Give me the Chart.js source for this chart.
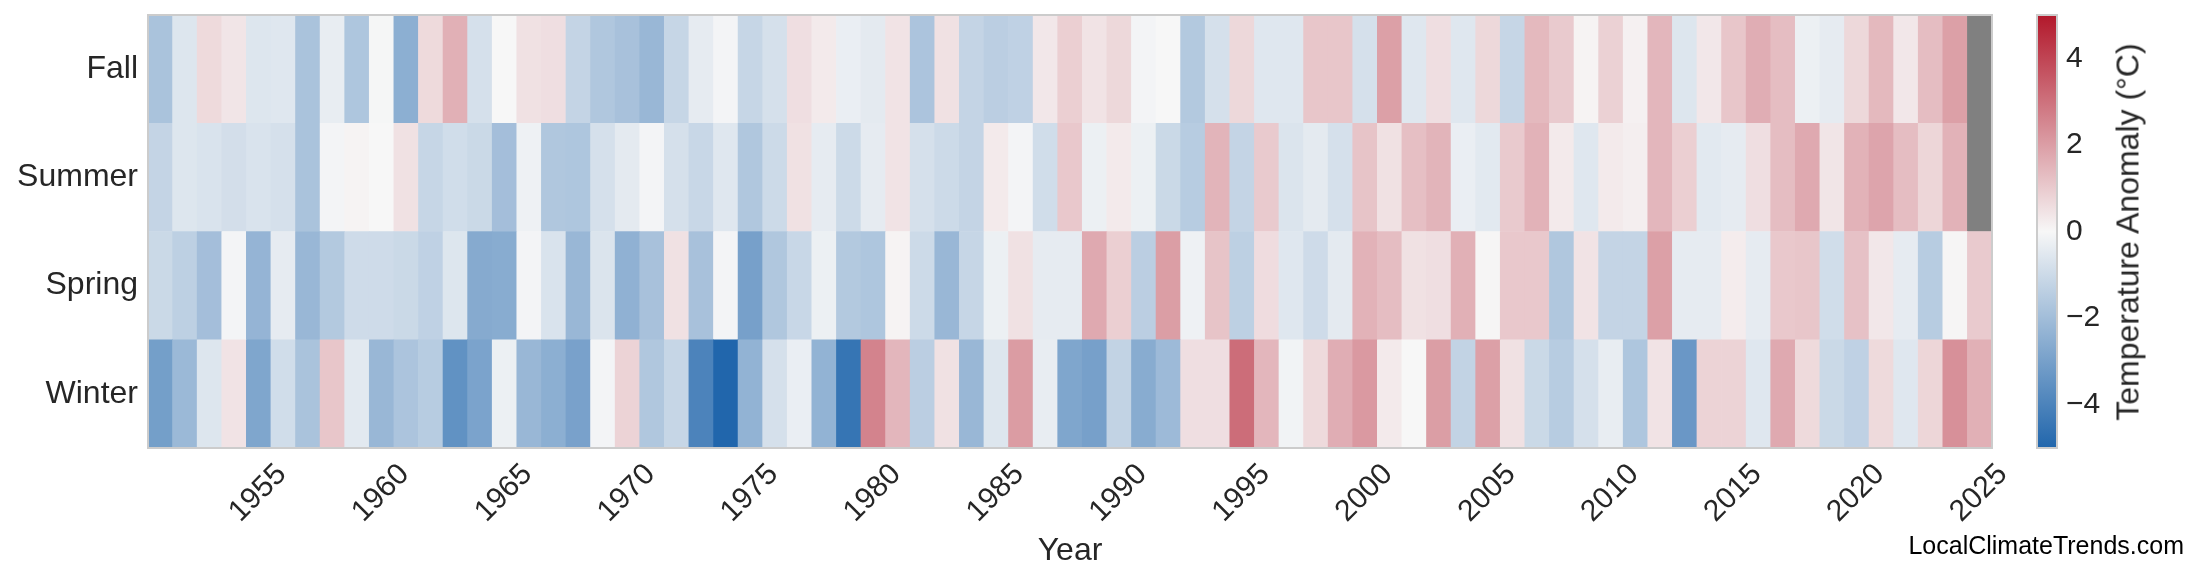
<!DOCTYPE html>
<html>
<head>
<meta charset="utf-8">
<title>Seasonal temperature anomaly</title>
<script src="https://cdn.jsdelivr.net/npm/chart.js@4.4.1/dist/chart.umd.min.js"></script>
<style>
    html, body { margin: 0; padding: 0; background: #fff; }
    #wrap { position: relative; width: 2200px; height: 585px; overflow: hidden; font-family: 'Liberation Sans', Arial, sans-serif; }
    #heat { position: absolute; left: 0; top: 0; }
    #cbar { position: absolute; left: 2000px; top: 0; }
    #cbarTitle {
        position: absolute; left: 2128px; top: 232px;
        transform: translate(-50%, -50%) rotate(-90deg);
        white-space: nowrap; font-size: 32px; color: #262626;
    }
    #credit {
        position: absolute; right: 16px; top: 533px;
        font-size: 25px; line-height: 25px; color: #000;
    }
</style>
</head>
<body>
<div id="wrap">
    <canvas id="heat" width="2200" height="585"></canvas>
    <canvas id="cbar" width="200" height="585"></canvas>
    <div id="cbarTitle">Temperature Anomaly (°C)</div>
    <div id="credit">LocalClimateTrends.com</div>
</div>
<script>
// one column per year, 1951..2025
const years = Array.from({ length: 75 }, (_, i) => 1951 + i);
const seasons = ['Winter', 'Spring', 'Summer', 'Fall'];   // bottom to top

// anomaly in °C (null = no data yet)
const winter = [-3.05, -2.15, -0.6, 0.45, -2.8, -0.9, -1.8, 1.1, -0.5, -2.2,
    -1.75, -1.5, -3.5, -2.9, -0.25, -2.2, -2.5, -2.95, -0.1, 0.8,
    -1.65, -1.15, -4.0, -5.0, -2.35, -0.8, -0.3, -2.35, -4.5, 2.6,
    1.45, -1.4, 0.5, -2.2, -0.6, 2.05, -0.35, -2.8, -3.0, -1.25,
    -2.6, -2.1, 0.55, 0.55, 3.1, 1.45, -0.15, 0.65, 1.65, 2.1,
    0.3, 0.0, 2.0, -1.25, 1.95, 0.5, -1.05, -1.5, -0.8, -0.35,
    -1.7, 0.45, -3.3, 0.8, 0.8, -0.55, 1.75, 0.65, -1.05, -1.3,
    0.65, -0.55, 0.75, 2.3, 1.6];
const spring = [-1.05, -1.35, -1.95, -0.1, -2.3, -0.4, -2.2, -1.6, -0.95, -0.95,
    -1.05, -1.3, -0.6, -2.65, -2.6, -0.1, -0.7, -2.2, -0.65, -2.4,
    -1.85, 0.5, -1.85, -0.1, -3.0, -1.65, -1.1, -0.25, -1.6, -1.7,
    0.1, -1.0, -2.2, -1.15, -0.25, 0.5, -0.4, -0.4, 1.75, 0.9,
    -1.4, 2.0, -0.2, 1.15, -1.35, 0.6, -0.55, -0.95, -0.45, 1.55,
    1.3, 0.5, 0.55, 1.6, 0.05, 1.05, 1.05, -1.65, 0.45, -1.2,
    -1.2, 1.95, -0.4, -0.4, 0.25, -0.4, 1.05, 1.1, -0.9, 1.2,
    0.35, -0.4, -1.5, 0.05, 1.0];
const summer = [-1.2, -0.6, -0.7, -0.85, -0.7, -0.8, -1.8, -0.1, 0.1, 0.0,
    0.5, -1.15, -0.9, -1.05, -1.95, -0.2, -1.65, -1.7, -0.8, -0.45,
    -0.1, -0.8, -1.1, -0.55, -1.65, -1.0, 0.5, -0.4, -1.0, -0.4,
    0.45, -0.8, -1.0, -1.2, 0.3, -0.1, -0.9, 1.05, -0.25, 0.3,
    -0.25, -1.05, -1.5, 1.5, -1.2, 1.0, -0.65, -0.45, -0.8, 1.15,
    0.5, 1.25, 1.5, -0.3, -0.5, 1.0, 1.55, 0.3, -0.55, 0.3,
    0.2, 1.45, 0.9, -0.5, -0.4, 0.55, 1.3, 1.75, 0.4, 1.55,
    1.85, 1.3, 0.75, 1.55, null];
const fall = [-1.8, -0.6, 0.65, 0.4, -0.6, -0.55, -1.8, -0.35, -1.7, -0.05,
    -2.5, 0.65, 1.6, -0.8, 0.0, 0.5, 0.55, -1.2, -1.65, -1.85,
    -2.2, -1.15, -0.4, -0.1, -1.15, -0.8, 0.55, 0.3, -0.3, -0.45,
    0.45, -1.75, 0.5, -1.2, -1.4, -1.3, 0.35, 0.9, 0.45, 0.7,
    -0.1, 0.0, -1.6, -0.8, 0.7, -0.55, -0.55, 1.1, 1.1, -0.8,
    1.95, -0.55, 0.55, -0.55, 0.7, -1.15, 1.4, 1.0, 0.1, 0.85,
    0.15, 1.45, -0.6, 0.35, 1.1, 1.65, 1.3, -0.25, -0.4, 0.7,
    1.4, 0.35, 1.3, 1.95, null];

const yearTicks = [1955, 1960, 1965, 1970, 1975, 1980, 1985, 1990, 1995, 2000, 2005, 2010, 2015, 2020, 2025];
const barTicks = [-4, -2, 0, 2, 4];
const vmin = -5, vmax = 5;

Chart.defaults.font.family = "'Liberation Sans', Arial, sans-serif";
Chart.defaults.color = '#262626';

// blue - white - red, linear in rgb
const low = [33, 102, 172], mid = [247, 247, 247], high = [178, 24, 43];
function anomalyColor(v) {
    if (v === null) return '#808080';
    const t = Math.max(-1, Math.min(1, v / vmax));
    const end = t < 0 ? low : high;
    const c = mid.map((m, k) => Math.round(m + (end[k] - m) * Math.abs(t)));
    return `rgb(${c.join(',')})`;
}

const frame = {
    id: 'frame',
    afterDraw(chart) {
        const { ctx, chartArea: a } = chart;
        ctx.save();
        ctx.strokeStyle = '#cccccc';
        ctx.lineWidth = 2;
        ctx.strokeRect(a.left, a.top, a.right - a.left, a.bottom - a.top);
        ctx.restore();
    }
};

// keep the label half-heights from pushing the plot area around
function fixVertical(width) {
    return ax => {
        ax.width = width;
        ax.paddingTop = 0;
        ax.paddingBottom = 0;
    };
}

const noGrid = { display: false, drawTicks: false };
const rows = [winter, spring, summer, fall];

new Chart(document.getElementById('heat'), {
    type: 'bar',
    data: {
        labels: years,
        datasets: rows.map((vals, i) => ({
            label: seasons[i],
            data: vals.map(() => 1),
            backgroundColor: vals.map(anomalyColor),
            borderWidth: 0,
            barPercentage: 1,
            categoryPercentage: 1
        }))
    },
    options: {
        responsive: false,
        animation: false,
        layout: { padding: { top: 15, right: 208, bottom: 0, left: 0 } },
        plugins: { legend: { display: false }, tooltip: { enabled: false } },
        scales: {
            x: {
                stacked: true,
                grid: noGrid,
                border: { display: false },
                afterBuildTicks: ax => { ax.ticks = ax.ticks.filter(t => yearTicks.includes(years[t.value])); },
                afterFit: ax => { ax.height = 137; },
                ticks: { autoSkip: false, minRotation: 45, maxRotation: 45, padding: 9, labelOffset: 23, font: { size: 30 } },
                title: { display: true, text: 'Year', font: { size: 32 }, padding: { top: 0, bottom: 15 } }
            },
            y: {
                stacked: true,
                min: 0,
                max: 4,
                grid: noGrid,
                border: { display: false },
                afterBuildTicks: ax => { ax.ticks = seasons.map((s, i) => ({ value: i + 0.5 })); },
                afterFit: fixVertical(148),
                ticks: { padding: 10, font: { size: 32 }, callback: v => seasons[Math.floor(v)] }
            }
        }
    },
    plugins: [frame]
});

function barGradient(chart) {
    const { ctx, chartArea, scales } = chart;
    if (!chartArea) return null;
    const y = scales.y;
    const g = ctx.createLinearGradient(0, y.getPixelForValue(vmin), 0, y.getPixelForValue(vmax));
    g.addColorStop(0, anomalyColor(vmin));
    g.addColorStop(0.5, anomalyColor(0));
    g.addColorStop(1, anomalyColor(vmax));
    return g;
}

new Chart(document.getElementById('cbar'), {
    type: 'bar',
    data: {
        labels: [''],
        datasets: [{
            data: [[vmin, vmax]],
            backgroundColor: c => barGradient(c.chart),
            borderWidth: 0,
            barPercentage: 1,
            categoryPercentage: 1
        }]
    },
    options: {
        responsive: false,
        animation: false,
        layout: { padding: { top: 15, right: 0, bottom: 137, left: 37 } },
        plugins: { legend: { display: false }, tooltip: { enabled: false } },
        scales: {
            x: { display: false },
            y: {
                position: 'right',
                min: vmin,
                max: vmax,
                grid: noGrid,
                border: { display: false },
                afterBuildTicks: ax => { ax.ticks = barTicks.map(v => ({ value: v })); },
                afterFit: fixVertical(143),
                ticks: { padding: 9, font: { size: 30 }, callback: v => v < 0 ? '\u2212' + (-v) : String(v) }
            }
        }
    },
    plugins: [frame]
});
</script>
</body>
</html>
